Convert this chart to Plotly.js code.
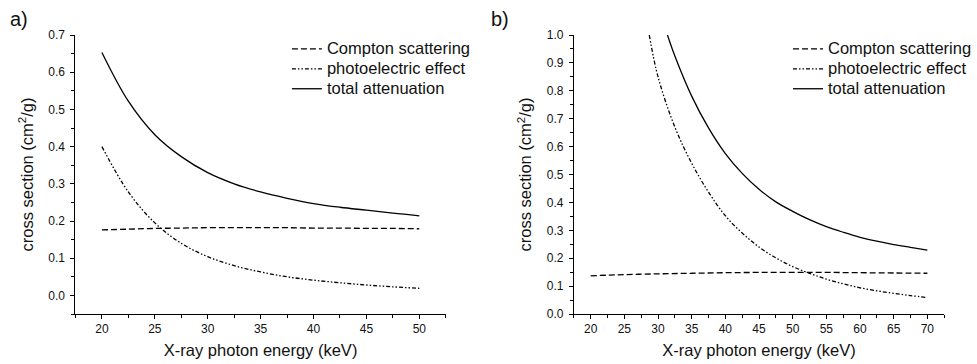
<!DOCTYPE html>
<html>
<head>
<meta charset="utf-8">
<script src="https://cdn.plot.ly/plotly-3.0.1.min.js"></script>
<style>html,body{margin:0;padding:0;background:#fff;} #chart{width:977px;height:364px;}</style>
</head>
<body>
<div id="chart"></div>
<script>
// Panel a)
const energyA = [20, 22.5, 25, 27.5, 30, 32.5, 35, 37.5, 40, 42.5, 45, 47.5, 50];
const comptonA = [0.176, 0.178, 0.180, 0.181, 0.182, 0.182, 0.182, 0.182, 0.181, 0.181, 0.180, 0.180, 0.179];
const photoA   = [0.400, 0.278, 0.195, 0.140, 0.104, 0.080, 0.063, 0.050, 0.041, 0.034, 0.028, 0.023, 0.019];
const totalA   = [0.653, 0.522, 0.432, 0.373, 0.330, 0.300, 0.278, 0.261, 0.247, 0.237, 0.229, 0.221, 0.214];

// Panel b)
const energyComptonB = [20, 25, 30, 35, 40, 45, 50, 55, 60, 65, 70];
const comptonB = [0.137, 0.141, 0.144, 0.146, 0.148, 0.149, 0.149, 0.149, 0.148, 0.147, 0.146];
const energyPhotoB = [28.7, 30, 32.5, 35, 37.5, 40, 42.5, 45, 47.5, 50, 52.5, 55, 57.5, 60, 62.5, 65, 67.5, 70];
const photoB = [1.0, 0.85, 0.67, 0.54, 0.437, 0.352, 0.29, 0.24, 0.201, 0.17, 0.146, 0.125, 0.108, 0.094, 0.083, 0.074, 0.066, 0.059];
const energyTotalB = [31.4, 32.5, 35, 37.5, 40, 42.5, 45, 47.5, 50, 52.5, 55, 57.5, 60, 62.5, 65, 67.5, 70];
const totalB = [1.0, 0.925, 0.781, 0.667, 0.575, 0.504, 0.447, 0.402, 0.368, 0.338, 0.313, 0.293, 0.275, 0.261, 0.249, 0.239, 0.229];

const seriesNames = ['Compton scattering', 'photoelectric effect', 'total attenuation'];
const xTitle = 'X-ray photon energy (keV)';
const yTitle = 'cross section (cm<sup>2</sup>/g)';

const FONT = 'Arial, "Liberation Sans", sans-serif';
const dashC = '6px,3px';
const dashP = '4px,2px,1.5px,2px,1.5px,2px';
const LW = 1.3;

function legName(s) { return '<span style="font-size:16.5px">' + s + '</span>'; }

function tr(x, y, name, dash, xa, ya, leg) {
  return {x: x, y: y, name: legName(name), type: 'scatter', mode: 'lines',
    line: {color: '#000', width: LW, dash: dash, shape: 'spline', smoothing: 1.0},
    xaxis: xa, yaxis: ya, legend: leg, hoverinfo: 'skip', cliponaxis: true};
}

const data = [
  tr(energyA, comptonA, seriesNames[0], dashC, 'x', 'y', 'legend'),
  tr(energyA, photoA, seriesNames[1], dashP, 'x', 'y', 'legend'),
  tr(energyA, totalA, seriesNames[2], 'solid', 'x', 'y', 'legend'),
  tr(energyComptonB, comptonB, seriesNames[0], dashC, 'x2', 'y2', 'legend2'),
  tr(energyPhotoB, photoB, seriesNames[1], dashP, 'x2', 'y2', 'legend2'),
  tr(energyTotalB, totalB, seriesNames[2], 'solid', 'x2', 'y2', 'legend2')
];

const W = 977, H = 364;
const yDom = [1 - 314 / H, 1 - 35 / H];

function xaxis(dom, range, anchor) {
  return {domain: dom, range: range, anchor: anchor, tick0: 20, dtick: 5,
    ticks: 'outside', ticklen: 4, tickwidth: 1, tickcolor: '#000',
    minor: {dtick: 2.5, ticks: 'outside', ticklen: 3, tickcolor: '#000', showgrid: false},
    showline: true, linecolor: '#000', linewidth: 1, showgrid: false, zeroline: false,
    tickfont: {family: FONT, size: 12, color: '#111'},
    title: {text: xTitle, font: {family: FONT, size: 16.5, color: '#111'}, standoff: 9},
    fixedrange: true};
}
function yaxis(range, anchor) {
  return {domain: yDom, range: range, anchor: anchor, tick0: 0, dtick: 0.1, tickformat: '.1f',
    ticks: 'outside', ticklen: 4, tickwidth: 1, tickcolor: '#000',
    minor: {dtick: 0.05, ticks: 'outside', ticklen: 3, tickcolor: '#000', showgrid: false},
    showline: true, linecolor: '#000', linewidth: 1, showgrid: false, zeroline: false,
    ticklabelstandoff: 3,
    tickfont: {family: FONT, size: 12, color: '#111'},
    title: {text: yTitle, font: {family: FONT, size: 16.5, color: '#111'}, standoff: 10},
    fixedrange: true};
}

const legBase = {yanchor: 'top', xanchor: 'left', bgcolor: 'rgba(0,0,0,0)', borderwidth: 0,
  font: {family: FONT, size: 13, color: '#111'}, itemwidth: 30, tracegroupgap: 0};

const layout = {
  width: W, height: H,
  margin: {l: 0, r: 0, t: 0, b: 0},
  paper_bgcolor: '#fff', plot_bgcolor: '#fff',
  showlegend: true,
  xaxis: xaxis([76 / W, 449 / W], [17.5, 52.5], 'y'),
  yaxis: yaxis([-0.05, 0.7], 'x'),
  xaxis2: xaxis([578 / W, 951 / W], [17.5, 72.5], 'y2'),
  yaxis2: yaxis([0, 1.0], 'x2'),
  legend: Object.assign({}, legBase, {x: 289 / W, y: 1 - 34 / H}),
  legend2: Object.assign({}, legBase, {x: 794 / W, y: 1 - 34 / H}),
  annotations: [
    {text: 'a)', xref: 'paper', yref: 'paper', x: 8 / W, y: 1 - 19 / H, xanchor: 'left', yanchor: 'middle',
     showarrow: false, font: {family: FONT, size: 20, color: '#111'}},
    {text: 'b)', xref: 'paper', yref: 'paper', x: 493 / W, y: 1 - 19 / H, xanchor: 'left', yanchor: 'middle',
     showarrow: false, font: {family: FONT, size: 20, color: '#111'}}
  ]
};

Plotly.newPlot('chart', data, layout, {displayModeBar: false, staticPlot: true});
</script>
</body>
</html>
